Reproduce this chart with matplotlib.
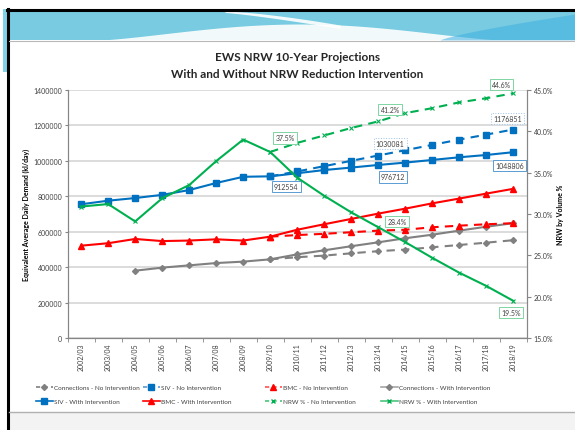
import matplotlib.pyplot as plt
import numpy as np
from matplotlib.lines import Line2D

plt.rcParams["font.family"] = ["Lato", "DejaVu Sans"]

years = ["2002/03", "2003/04", "2004/05", "2005/06", "2006/07", "2007/08",
         "2008/09", "2009/10", "2010/11", "2011/12", "2012/13", "2013/14",
         "2014/15", "2015/16", "2016/17", "2017/18", "2018/19"]

# demand series (kl/day); None = no value for that year
siv_with = [755000, 775000, 790000, 808000, 835000, 875000, 910000, 912554,
            930000, 948000, 962000, 976712, 990000, 1005000, 1020000, 1033000, 1048806]
siv_no = [None] * 7 + [912554, 940000, 970000, 1000000, 1030081, 1060000,
                       1090000, 1120000, 1148000, 1176851]
bmc_with = [521000, 535000, 559000, 547000, 550000, 557000, 550000, 572000,
            611000, 642000, 672000, 702000, 730000, 760000, 787000, 815000, 842000]
bmc_no = [None] * 7 + [572000, 581000, 588000, 597000, 606000, 611000,
                       625000, 634000, 642000, 648000]
conn_with = [None] * 2 + [380000, 397000, 410000, 423000, 431000, 444000,
                          472000, 495000, 518000, 540000, 563000, 583000,
                          606000, 628000, 648000]
conn_no = [None] * 7 + [444000, 456000, 465000, 478000, 490000, 499000,
                        512000, 525000, 538000, 552000]

# NRW % by volume
nrw_with = [30.9, 31.2, 29.1, 31.9, 33.5, 36.4, 39.0, 37.5, 34.4, 32.2, 30.2,
            28.4, 26.6, 24.7, 22.9, 21.3, 19.5]
nrw_no = [None] * 7 + [37.5, 38.6, 39.5, 40.4, 41.2, 42.2, 42.8, 43.5, 44.0, 44.6]


def arr(v):
    return np.array([np.nan if a is None else a for a in v], dtype=float)


BLUE = "#0070C0"
RED = "#FF0000"
GREEN = "#00B050"
GRAY = "#808080"
AXC = "#868686"
TXT = "#404040"

fig = plt.figure(figsize=(5.75, 4.31), dpi=100)

# slide decoration (pixel coordinates)
bg = fig.add_axes([0, 0, 1, 1], zorder=-10)
bg.set_xlim(0, 575)
bg.set_ylim(431, 0)
bg.axis("off")
bg.fill_between([9, 575], 12, 41, color="#78cbe0", lw=0)
xs = np.linspace(100, 500, 300)
wave_top = 41 - 16 * np.sin(np.pi * (xs - 100) / 400) ** 1.3
bg.fill_between(xs, wave_top, 41.5, color="white", lw=0, alpha=0.9)
xs2 = np.linspace(225, 340, 100)
bg.fill_between(xs2, 12 + 14 * ((xs2 - 225) / 115) ** 1.4,
                13.5 + 16 * ((xs2 - 225) / 115) ** 1.2, color="white", lw=0, alpha=0.9)
xs3 = np.linspace(440, 575, 100)
bg.fill_between(xs3, 41 - 26 * ((xs3 - 440) / 135) ** 0.8, 41,
                color="#3fb0e0", lw=0, alpha=0.55)
bg.fill_between([3, 7], 10, 73, color="#7fd3e6", lw=0)
bg.plot([7, 575], [11, 11], color="black", lw=2.2)
bg.plot([8, 8], [10, 431], color="black", lw=2.2)
bg.plot([9, 575], [41.5, 41.5], color="#b8b8b8", lw=0.8)
bg.fill_between([9, 575], 413, 431, color="#f3f3f3", lw=0)
bg.plot([9, 575], [413, 413], color="#b0b0b0", lw=1.0)

ax = fig.add_axes([0.1177, 0.2135, 0.7983, 0.5754])
ax2 = ax.twinx()
x = np.arange(len(years))

ax.set_xlim(-0.5, len(years) - 0.5)
ax.set_ylim(0, 1400000)
ax.set_yticks(np.arange(0, 1400001, 200000))
ax.set_yticklabels([str(v) for v in range(0, 1400001, 200000)])
ax.grid(axis="y", color="#d9d9d9", lw=1.3)
ax.set_axisbelow(True)
ax.set_xticks(x)
ax.set_xticklabels(years, rotation=90, fontsize=5, color=TXT)
ax.set_xticks(np.arange(-0.5, len(years), 1), minor=True)
ax.tick_params(axis="x", which="major", length=0, pad=3)
ax.tick_params(axis="x", which="minor", length=3, color=AXC, direction="out")
ax.tick_params(axis="y", length=2, color=AXC, labelsize=5, labelcolor=TXT, pad=2)
for s in ["left", "bottom", "right"]:
    ax.spines[s].set_color(AXC)
    ax2.spines[s].set_color(AXC)
ax.spines["top"].set_visible(False)
ax2.spines["top"].set_visible(False)
ax.set_ylabel("Equivalent Average Daily Demand (kl/day)", fontsize=5,
              fontweight="bold", color="black", labelpad=2)

ax2.set_ylim(15, 45)
ax2.set_yticks(np.arange(15, 45.1, 5))
ax2.set_yticklabels([f"{v:.1f}%" for v in np.arange(15, 45.1, 5)])
ax2.tick_params(axis="y", length=3, color=AXC, labelsize=5, labelcolor=TXT, pad=2)
ax2.set_ylabel("NRW by Volume %", fontsize=5, fontweight="bold", color="black",
               labelpad=3)

dsh = (0, (4, 3))
ax.plot(x, arr(conn_no), color=GRAY, ls=dsh, lw=1.5, marker="D", ms=3)
ax.plot(x, arr(conn_with), color=GRAY, lw=1.5, marker="D", ms=3)
ax.plot(x, arr(bmc_no), color=RED, ls=dsh, lw=1.5, marker="^", ms=5)
ax.plot(x, arr(bmc_with), color=RED, lw=1.5, marker="^", ms=5)
ax.plot(x, arr(siv_no), color=BLUE, ls=dsh, lw=1.5, marker="s", ms=4.5)
ax.plot(x, arr(siv_with), color=BLUE, lw=1.5, marker="s", ms=4.5)
ax2.plot(x, arr(nrw_no), color=GREEN, ls=dsh, lw=1.5, marker="x", ms=3.5, mew=0.8)
ax2.plot(x, arr(nrw_with), color=GREEN, lw=1.5, marker="x", ms=3.5, mew=0.8)


def tag(axis, i, val, text, dx, dy, ec, ls="-"):
    axis.annotate(text, (x[i], val), xytext=(dx, dy), textcoords="offset pixels",
                  ha="center", va="center", fontsize=5, color=TXT,
                  bbox=dict(boxstyle="square,pad=0.3", fc="white", ec=ec, lw=0.7, ls=ls))


tag(ax2, 7, nrw_no[7], "37.5%", 15, 14, "#7fd4a3")
tag(ax2, 11, nrw_no[11], "41.2%", 12, 12, "#7fd4a3")
tag(ax2, 16, nrw_no[16], "44.6%", -12, 9, "#7fd4a3")
tag(ax2, 11, nrw_with[11], "28.4%", 19, 6, "#7fd4a3")
tag(ax2, 16, nrw_with[16], "19.5%", -2, -12, "#7fd4a3")
tag(ax, 7, siv_with[7], "912554", 16, -10, "#5b9bd5")
tag(ax, 11, siv_with[11], "976712", 15, -12, "#5b9bd5")
tag(ax, 16, siv_with[16], "1048806", -4, -13, "#5b9bd5")
tag(ax, 11, siv_no[11], "1030081", 12, 12, "#9dc3e6", ls=":")
tag(ax, 16, siv_no[16], "1176851", -6, 11, "#9dc3e6", ls=":")

fig.text(0.517, 0.867, "EWS NRW 10-Year Projections", ha="center", va="center",
         fontsize=8.5, fontweight="bold", color="#262626")
fig.text(0.517, 0.828, "With and Without NRW Reduction Intervention", ha="center",
         va="center", fontsize=8.5, fontweight="bold", color="#262626")

dash = (0, (2.5, 2))
columns = [
    [(Line2D([], [], color=GRAY, ls=dash, lw=1.2, marker="D", ms=3),
      "Connections - No Intervention"),
     (Line2D([], [], color=BLUE, lw=1.2, marker="s", ms=4),
      "SIV - With Intervention")],
    [(Line2D([], [], color="#5b9bd5", ls=dash, lw=1.2, marker="s", mfc=BLUE, mec=BLUE, ms=4),
      "SIV - No Intervention"),
     (Line2D([], [], color=RED, lw=1.2, marker="^", ms=4),
      "BMC - With Intervention")],
    [(Line2D([], [], color="#ff5050", ls=dash, lw=1.2, marker="^", mfc=RED, mec=RED, ms=4),
      "BMC - No Intervention"),
     (Line2D([], [], color="#4cc47d", ls=dash, lw=1.2, marker="x", mec=GREEN, ms=3),
      "NRW % - No Intervention")],
    [(Line2D([], [], color="#a6a6a6", lw=1.2, marker="D", mfc=GRAY, mec=GRAY, ms=3),
      "Connections - With Intervention"),
     (Line2D([], [], color="#4cc47d", lw=1.2, marker="x", mec=GREEN, ms=3),
      "NRW % - With Intervention")],
]
col_x = [36, 143, 265, 381]
for cx, col in zip(col_x, columns):
    leg = fig.legend([h for h, _ in col], [t for _, t in col], loc="upper left",
                     bbox_to_anchor=(cx / 575, 1 - 386 / 431), fontsize=4.6,
                     frameon=False, handlelength=2.6, handletextpad=0.2,
                     labelspacing=1.3, borderpad=0, borderaxespad=0,
                     labelcolor=TXT)

fig.savefig("out.png", dpi=100)
